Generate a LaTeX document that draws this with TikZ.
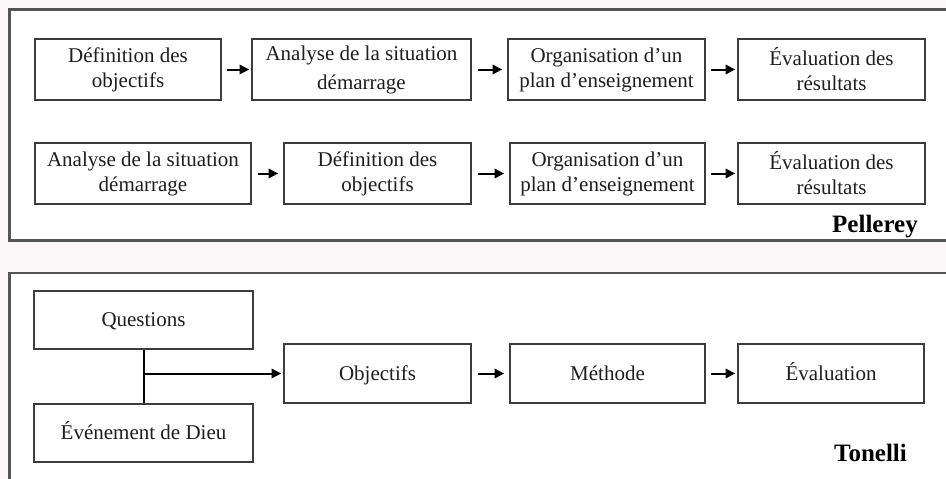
\documentclass[tikz,border=0pt]{standalone}
\usepackage{fontspec}
\setmainfont{Liberation Serif}
\usetikzlibrary{arrows.meta}
\definecolor{framec}{HTML}{555555}
\definecolor{boxc}{HTML}{3C3C3C}
\definecolor{txtc}{HTML}{1E1E1E}
\definecolor{bgc}{HTML}{FBF7F8}
\tikzset{
  x=1pt,y=-1pt,
  frame/.style={draw=framec,line width=2.2pt,fill=white},
  stepbox/.style={draw=boxc,line width=1.8pt,inner sep=0pt,align=center,text=txtc,
    font=\fontsize{21}{25}\selectfont},
  single/.style={text height=18pt,text depth=5pt},
  arr/.style={draw=black,line width=2pt,-{Triangle[length=9.5pt,width=9.5pt]},shorten <=5pt,shorten >=2pt},
  wide/.style={shorten <=6pt,shorten >=5pt},
  author/.style={font=\fontsize{25}{28}\selectfont\bfseries,text=black,inner sep=0pt}
}
\begin{document}
\begin{tikzpicture}
\useasboundingbox (0,0) rectangle (946,479);
\fill[bgc] (0,0) rectangle (946,479);
\draw[frame] (9.5,9.5) -- (960,9.5) -- (960,240.5) -- (9.5,240.5) -- cycle;
\draw[frame] (9.5,273) -- (960,273) -- (960,495) -- (9.5,495) -- cycle;
% Pellerey row 1
\node[stepbox,minimum width=186pt,minimum height=61pt] (a1) at (128,69.5) {\raisebox{-2pt}{Définition des}\\\raisebox{-2pt}{objectifs}};
\node[stepbox,minimum width=219pt,minimum height=61pt] (a2) at (361.5,69.5) {\raisebox{-3pt}{Analyse de la situation}\\[7pt]démarrage};
\node[stepbox,minimum width=197pt,minimum height=61pt] (a3) at (606.5,69.5) {Organisation d’un\\plan d’enseignement};
\node[stepbox,minimum width=187pt,minimum height=61pt] (a4) at (831.5,69.5) {Évaluation des\\résultats};
% Pellerey row 2
\node[stepbox,minimum width=216pt,minimum height=61pt] (b1) at (143,173.5) {Analyse de la situation\\démarrage};
\node[stepbox,minimum width=187pt,minimum height=61pt] (b2) at (377.5,173.5) {Définition des\\objectifs};
\node[stepbox,minimum width=195pt,minimum height=61pt] (b3) at (607.5,173.5) {Organisation d’un\\plan d’enseignement};
\node[stepbox,minimum width=187pt,minimum height=61pt] (b4) at (831.5,173.5) {Évaluation des\\résultats};
\draw[arr] (a1) -- (a2);
\draw[arr,wide] (a2) -- (a3);
\draw[arr] (a3) -- (a4);
\draw[arr,wide] (b1) -- (b2);
\draw[arr,wide] (b2) -- (b3);
\draw[arr] (b3) -- (b4);
\node[author] (pel) at (875,227) {Pellerey};
% Tonelli
\node[stepbox,single,minimum width=219pt,minimum height=58pt] (q) at (143.5,320) {Questions};
\node[stepbox,single,minimum width=219pt,minimum height=58pt] (e) at (143.5,433) {Événement de Dieu};
\node[stepbox,single,minimum width=187pt,minimum height=59pt] (o) at (377.5,373.5) {Objectifs};
\node[stepbox,single,minimum width=195pt,minimum height=59pt] (m) at (607.5,373.5) {Méthode};
\node[stepbox,single,minimum width=186pt,minimum height=59pt] (v) at (831,373.5) {Évaluation};
\draw[draw=black,line width=2pt] (q.south) -- (e.north);
\coordinate (j) at (q.south |- o.west);
\draw[arr,shorten <=0pt] (j) -- (o.west);
\draw[arr,wide] (o) -- (m);
\draw[arr] (m) -- (v);
\node[author] (ton) at (870.5,453) {Tonelli};
\end{tikzpicture}
\end{document}
